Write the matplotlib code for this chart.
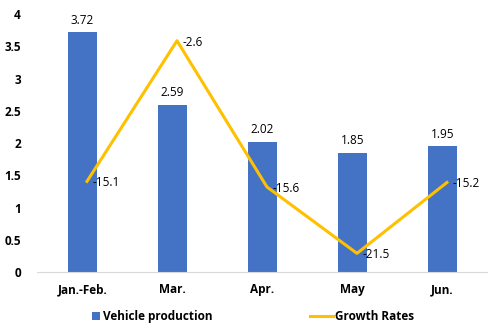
import numpy as np
import matplotlib.pyplot as plt

# data
months = ['Jan.-Feb.', 'Mar.', 'Apr.', 'May', 'Jun.']
production = [3.72, 2.59, 2.02, 1.85, 1.95]
growth = [-15.1, -2.6, -15.6, -21.5, -15.2]

plt.rcParams['font.family'] = ['Open Sans', 'DejaVu Sans']

fig = plt.figure(figsize=(5.02, 3.35), dpi=100)
ax = fig.add_axes([0.0747, 0.188, 0.8963, 0.770])
ax2 = ax.twinx()

x = np.arange(len(months))
bars = ax.bar(x, production, width=0.32, color='#4472C4', label='Vehicle production', zorder=2)
for xi, v in zip(x, production):
    ax.annotate(f'{v:.2f}', (xi, v), xytext=(0, 4), textcoords='offset points',
                ha='center', va='bottom', fontsize=8.5, color='#000000')

line, = ax2.plot(x + 0.05, growth, color='#FFC000', lw=2.2, label='Growth Rates', zorder=3)
for xi, v in zip(x + 0.05, growth):
    ax2.annotate(f'{v:g}', (xi, v), xytext=(4, -1), textcoords='offset points',
                 ha='left', va='center', fontsize=8.5, color='#000000')

ax.set_xlim(-0.5, len(months) - 0.5)
ax.set_ylim(0, 4)
ax2.set_ylim(-23.16, -0.23)
ax.set_yticks(np.arange(0, 4.01, 0.5))
ax.set_yticklabels(['0', '0.5', '1', '1.5', '2', '2.5', '3', '3.5', '4'])
ax.set_xticks(x)
ax.set_xticklabels(months)

for a in (ax, ax2):
    for s in ('top', 'right', 'left'):
        a.spines[s].set_visible(False)
ax2.spines['bottom'].set_visible(False)
ax.spines['bottom'].set_color('#D9D9D9')
ax2.set_yticks([])
ax.tick_params(axis='both', length=0, labelsize=8.5, pad=8)
for lab in ax.get_xticklabels() + ax.get_yticklabels():
    lab.set_fontweight('bold')
ax.tick_params(axis='y', pad=12)

# two legend entries placed separately, like the Excel legend
leg1 = fig.legend([bars], ['Vehicle production'], loc='center left',
                  bbox_to_anchor=(92 / 502, 0.054), frameon=False, fontsize=8.5,
                  handlelength=0.7, handleheight=0.7, handletextpad=0.25,
                  borderpad=0, borderaxespad=0)
leg2 = fig.legend([line], ['Growth Rates'], loc='center left',
                  bbox_to_anchor=(310 / 502, 0.054), frameon=False, fontsize=8.5,
                  handlelength=1.95, handletextpad=0.15,
                  borderpad=0, borderaxespad=0)
for leg in (leg1, leg2):
    for t in leg.get_texts():
        t.set_fontweight('bold')

fig.savefig('out.png', dpi=100)
